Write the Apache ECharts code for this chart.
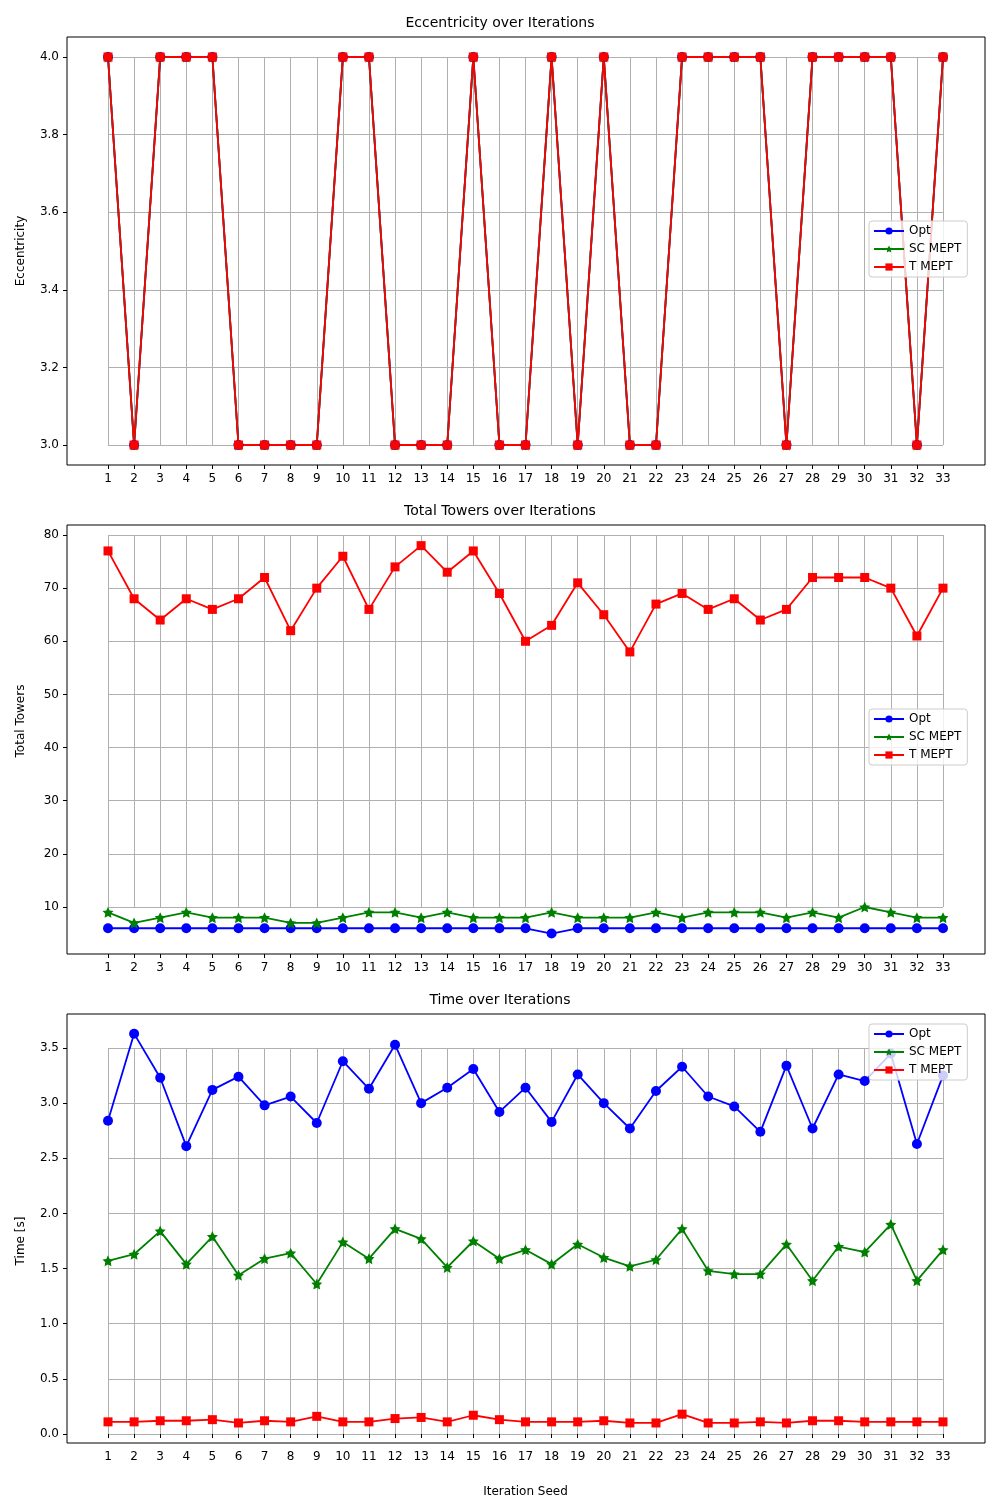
<!DOCTYPE html><html><head><meta charset="utf-8">
<script src="https://cdn.jsdelivr.net/npm/echarts@6/dist/echarts.min.js"></script>
<style>body{margin:0}#c{width:1000px;height:1500px}</style></head><body><div id="c"></div>
<script>
const seeds = Array.from({length:33},(_,i)=>i+1);
const eccOpt = [4,3,4,4,4,3,3,3,3,4,4,3,3,3,4,3,3,4,3,4,3,3,4,4,4,4,3,4,4,4,4,3,4];
const eccSC = eccOpt.slice();
const eccT = eccOpt.slice();
const towOpt = [6,6,6,6,6,6,6,6,6,6,6,6,6,6,6,6,6,5,6,6,6,6,6,6,6,6,6,6,6,6,6,6,6];
const towSC = [9,7,8,9,8,8,8,7,7,8,9,9,8,9,8,8,8,9,8,8,8,9,8,9,9,9,8,9,8,10,9,8,8];
const towT = [77,68,64,68,66,68,72,62,70,76,66,74,78,73,77,69,60,63,71,65,58,67,69,66,68,64,66,72,72,72,70,61,70];
const timeOpt = [2.84,3.63,3.23,2.61,3.12,3.24,2.98,3.06,2.82,3.38,3.13,3.53,3.00,3.14,3.31,2.92,3.14,2.83,3.26,3.00,2.77,3.11,3.33,3.06,2.97,2.74,3.34,2.77,3.26,3.20,3.45,2.63,3.25];
const timeSC = [1.57,1.63,1.84,1.54,1.79,1.44,1.59,1.64,1.36,1.74,1.59,1.86,1.77,1.51,1.75,1.59,1.67,1.54,1.72,1.60,1.52,1.58,1.86,1.48,1.45,1.45,1.72,1.39,1.70,1.65,1.90,1.39,1.67];
const timeT = [0.11,0.11,0.12,0.12,0.13,0.10,0.12,0.11,0.16,0.11,0.11,0.14,0.15,0.11,0.17,0.13,0.11,0.11,0.11,0.12,0.10,0.10,0.18,0.10,0.10,0.11,0.10,0.12,0.12,0.11,0.11,0.11,0.11];

const F='DejaVu Sans';
const star='path://M0,-10 L2.9,-4 9.5,-3.1 4.7,1.5 5.9,8.1 0,5 -5.9,8.1 -4.7,1.5 -9.5,-3.1 -2.9,-4 Z';
const chart=echarts.init(document.getElementById('c'));
const grids=[{top:57,bottom:1500-445},{top:535,bottom:1500-907},{top:1048,bottom:1500-1434}].map(g=>({left:108,right:57,top:g.top,bottom:g.bottom}));
const frames=[[37,465],[525,954],[1014,1443]];
const yCfg=[{min:3,max:4,interval:0.2,name:'Eccentricity',fmt:v=>v.toFixed(1)},
 {min:10,max:80,interval:10,name:'Total Towers',fmt:v=>String(v)},
 {min:0,max:3.5,interval:0.5,name:'Time [s]',fmt:v=>v.toFixed(1)}];
const titles=['Eccentricity over Iterations','Total Towers over Iterations','Time over Iterations'];
const data=[[eccOpt,eccSC,eccT],[towOpt,towSC,towT],[timeOpt,timeSC,timeT]];
const legTops=[221,709,1024];
const grid=[],xAxis=[],yAxis=[],series=[],legend=[],title=[],graphic=[];
for(let i=0;i<3;i++){
  grid.push(grids[i]);
  xAxis.push({type:'value',gridIndex:i,min:1,max:33,interval:1,
    axisLine:{show:false},axisTick:{show:true,length:4,lineStyle:{color:'#000'}},
    axisLabel:{color:'#000',fontFamily:F,fontSize:12,margin:10+(grids[i].bottom-(1500-frames[i][1]))},
    splitLine:{show:true,lineStyle:{color:'#b0b0b0',width:1}},
    name:i==2?'Iteration Seed':'',nameLocation:'middle',nameGap:43,nameTextStyle:{color:'#000',fontFamily:F,fontSize:12}});
  const off=frames[i][1]-(1500-grids[i].bottom);
  yAxis.push({type:'value',gridIndex:i,min:yCfg[i].min,max:yCfg[i].max,interval:yCfg[i].interval,
    axisLine:{show:false},axisTick:{show:true,length:4,lineStyle:{color:'#000'}},
    axisLabel:{color:'#000',fontFamily:F,fontSize:12,formatter:yCfg[i].fmt,margin:8+41},
    splitLine:{show:true,lineStyle:{color:'#b0b0b0',width:1}},
    name:yCfg[i].name,nameLocation:'middle',nameGap:80,nameTextStyle:{color:'#000',fontFamily:F,fontSize:12}});
  const [a,b,c]=data[i];
  const mk=(name,arr,color,symbol,size)=>({name,type:'line',xAxisIndex:i,yAxisIndex:i,clip:false,
    data:seeds.map((s,k)=>[s,arr[k]]),symbol,symbolSize:size,showSymbol:true,
    lineStyle:{color,width:1.8},itemStyle:{color},color});
  series.push(mk('Opt',a,'#0000ff','circle',10),mk('SC MEPT',b,'#008000',star,11),mk('T MEPT',c,'#ff0000','rect',9));
  legend.push({data:['Opt','SC MEPT','T MEPT'],orient:'vertical',left:869,top:legTops[i],itemGap:6,itemWidth:30,itemHeight:9,
    padding:[4,6,4,4],borderColor:'#cccccc',borderWidth:1,borderRadius:3,backgroundColor:'rgba(255,255,255,0.8)',
    textStyle:{fontFamily:F,fontSize:12,color:'#000'},selectedMode:false});
  title.push({text:titles[i],left:'center',top:frames[i][0]-26,textStyle:{fontFamily:F,fontSize:14,fontWeight:'normal',color:'#000'}});
  graphic.push({type:'rect',shape:{x:67,y:frames[i][0],width:918,height:frames[i][1]-frames[i][0]},style:{fill:'none',stroke:'#000',lineWidth:1},z:100});
}
// ticks positioned at frame: emulate by offsetting axes
xAxis.forEach((x,i)=>{x.offset=frames[i][1]-(1500-grids[i].bottom);x.axisLabel.margin=8;});
yAxis.forEach((y)=>{y.offset=41;y.axisLabel.margin=8;y.nameGap=40;});
chart.setOption({animation:false,backgroundColor:'#fff',grid,xAxis,yAxis,series,legend,title,graphic});
</script></body></html>
